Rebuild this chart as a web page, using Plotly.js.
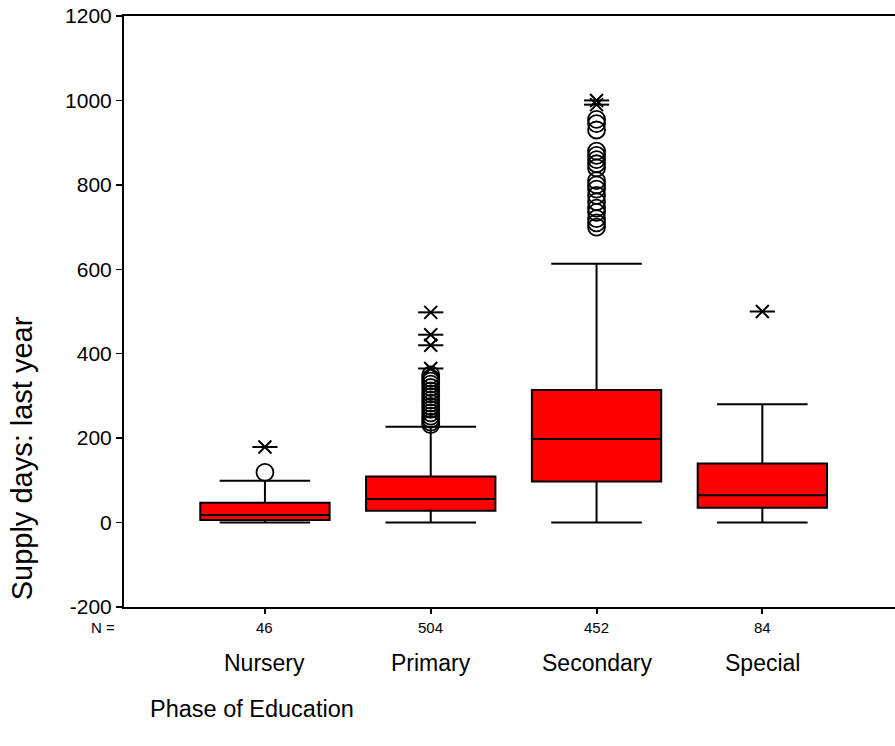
<!DOCTYPE html>
<html>
<head>
<meta charset="utf-8">
<script src="https://cdn.plot.ly/plotly-3.0.1.min.js"></script>
<style>html,body{margin:0;padding:0;background:#fff;}#chart{width:895px;height:746px;}</style>
</head>
<body>
<div id="chart"></div>
<script>
const categories = ["Nursery", "Primary", "Secondary", "Special"];
const nCounts = ["46", "504", "452", "84"];
const q1 = [6, 28, 97, 35];
const medians = [18, 56, 198, 65];
const q3 = [47, 109, 314, 140];
const lowerWhisker = [0, 0, 0, 0];
const upperWhisker = [99, 227, 613, 280];
const yTickVals = [-200, 0, 200, 400, 600, 800, 1000, 1200];
const yTickText = ["-200", "0", "200", "400", "600", "800", "1000", "1200"];

// outliers (circles) and extremes (stars)
const nurseryOutliers = [119];
const nurseryExtremes = [179];
const primaryOutliers = [232, 238, 245, 252, 260, 268, 275, 283, 290, 298, 305, 312, 320, 328, 335, 342, 350];
const primaryExtremes = [365, 420, 445, 498];
const secondaryOutliers = [700, 710, 720, 735, 745, 760, 775, 790, 800, 810, 840, 850, 860, 870, 880, 930, 945, 955];
const secondaryExtremes = [990, 1000];
const specialOutliers = [];
const specialExtremes = [500];

const outlierSets = [nurseryOutliers, primaryOutliers, secondaryOutliers, specialOutliers];
const extremeSets = [nurseryExtremes, primaryExtremes, secondaryExtremes, specialExtremes];

const xIdx = categories.map((c, i) => i);

const traces = [{
  type: 'box',
  x: xIdx,
  q1: q1, median: medians, q3: q3,
  lowerfence: lowerWhisker, upperfence: upperWhisker,
  width: 0.78,
  whiskerwidth: 0.7,
  fillcolor: '#FF0000',
  line: {color: '#000000', width: 2},
  boxpoints: false,
  hoverinfo: 'skip',
  showlegend: false
}];

const ox = [], oy = [], ex = [], ey = [];
outlierSets.forEach((arr, i) => arr.forEach(v => { ox.push(i); oy.push(v); }));
extremeSets.forEach((arr, i) => arr.forEach(v => { ex.push(i); ey.push(v); }));

traces.push({
  type: 'scatter', mode: 'markers', x: ox, y: oy, showlegend: false, hoverinfo: 'skip',
  marker: {symbol: 'circle-open', size: 17, color: '#000', line: {width: 1.8, color: '#000'}}
});
traces.push({
  type: 'scatter', mode: 'markers', x: ex, y: ey, showlegend: false, hoverinfo: 'skip',
  marker: {symbol: 'x-thin-open', size: 13, color: '#000', line: {width: 2, color: '#000'}}
});
traces.push({
  type: 'scatter', mode: 'markers', x: ex, y: ey, showlegend: false, hoverinfo: 'skip',
  marker: {symbol: 'line-ew-open', size: 18, color: '#000', line: {width: 2, color: '#000'}}
});

const font = "Arial, 'Liberation Sans', sans-serif";
const annotations = [];
categories.forEach((c, i) => {
  annotations.push({x: i, y: -0.0355, xref: 'x', yref: 'paper', text: nCounts[i], showarrow: false,
    font: {family: font, size: 15, color: '#000'}, xanchor: 'center', yanchor: 'middle'});
  annotations.push({x: i, y: -0.0948, xref: 'x', yref: 'paper', text: c, showarrow: false,
    font: {family: font, size: 23, color: '#000'}, xanchor: 'center', yanchor: 'middle'});
});
annotations.push({x: -0.009, y: -0.0355, xref: 'paper', yref: 'paper', text: 'N =', showarrow: false,
  font: {family: font, size: 15, color: '#000'}, xanchor: 'right', yanchor: 'middle'});
annotations.push({x: 0.031, y: -0.1726, xref: 'paper', yref: 'paper', text: 'Phase of Education', showarrow: false,
  font: {family: font, size: 23.5, color: '#000'}, xanchor: 'left', yanchor: 'middle'});
annotations.push({x: -0.132, y: 0.252, xref: 'paper', yref: 'paper', text: 'Supply days: last year', showarrow: false,
  textangle: -90, font: {family: font, size: 29, color: '#000'}, xanchor: 'center', yanchor: 'middle'});

const layout = {
  width: 895, height: 746,
  margin: {l: 124, r: 0, t: 16, b: 139},
  paper_bgcolor: '#fff', plot_bgcolor: '#fff',
  font: {family: font, color: '#000'},
  xaxis: {
    range: [-0.85, 3.8], showgrid: false, zeroline: false,
    showline: true, linecolor: '#000', linewidth: 2, mirror: true,
    tickmode: 'array', tickvals: xIdx, ticktext: categories.map(() => ''),
    ticks: 'outside', ticklen: 5, tickwidth: 2, tickcolor: '#000', fixedrange: true
  },
  yaxis: {
    range: [-200, 1200], showgrid: false, zeroline: false,
    showline: true, linecolor: '#000', linewidth: 2,
    tickmode: 'array', tickvals: yTickVals, ticktext: yTickText,
    ticks: 'outside', ticklen: 6, tickwidth: 1.5, tickcolor: '#000',
    tickfont: {family: font, size: 21, color: '#000'}, fixedrange: true
  },
  annotations: annotations,
  showlegend: false
};

Plotly.newPlot('chart', traces, layout, {displayModeBar: false, staticPlot: true});
</script>
</body>
</html>
